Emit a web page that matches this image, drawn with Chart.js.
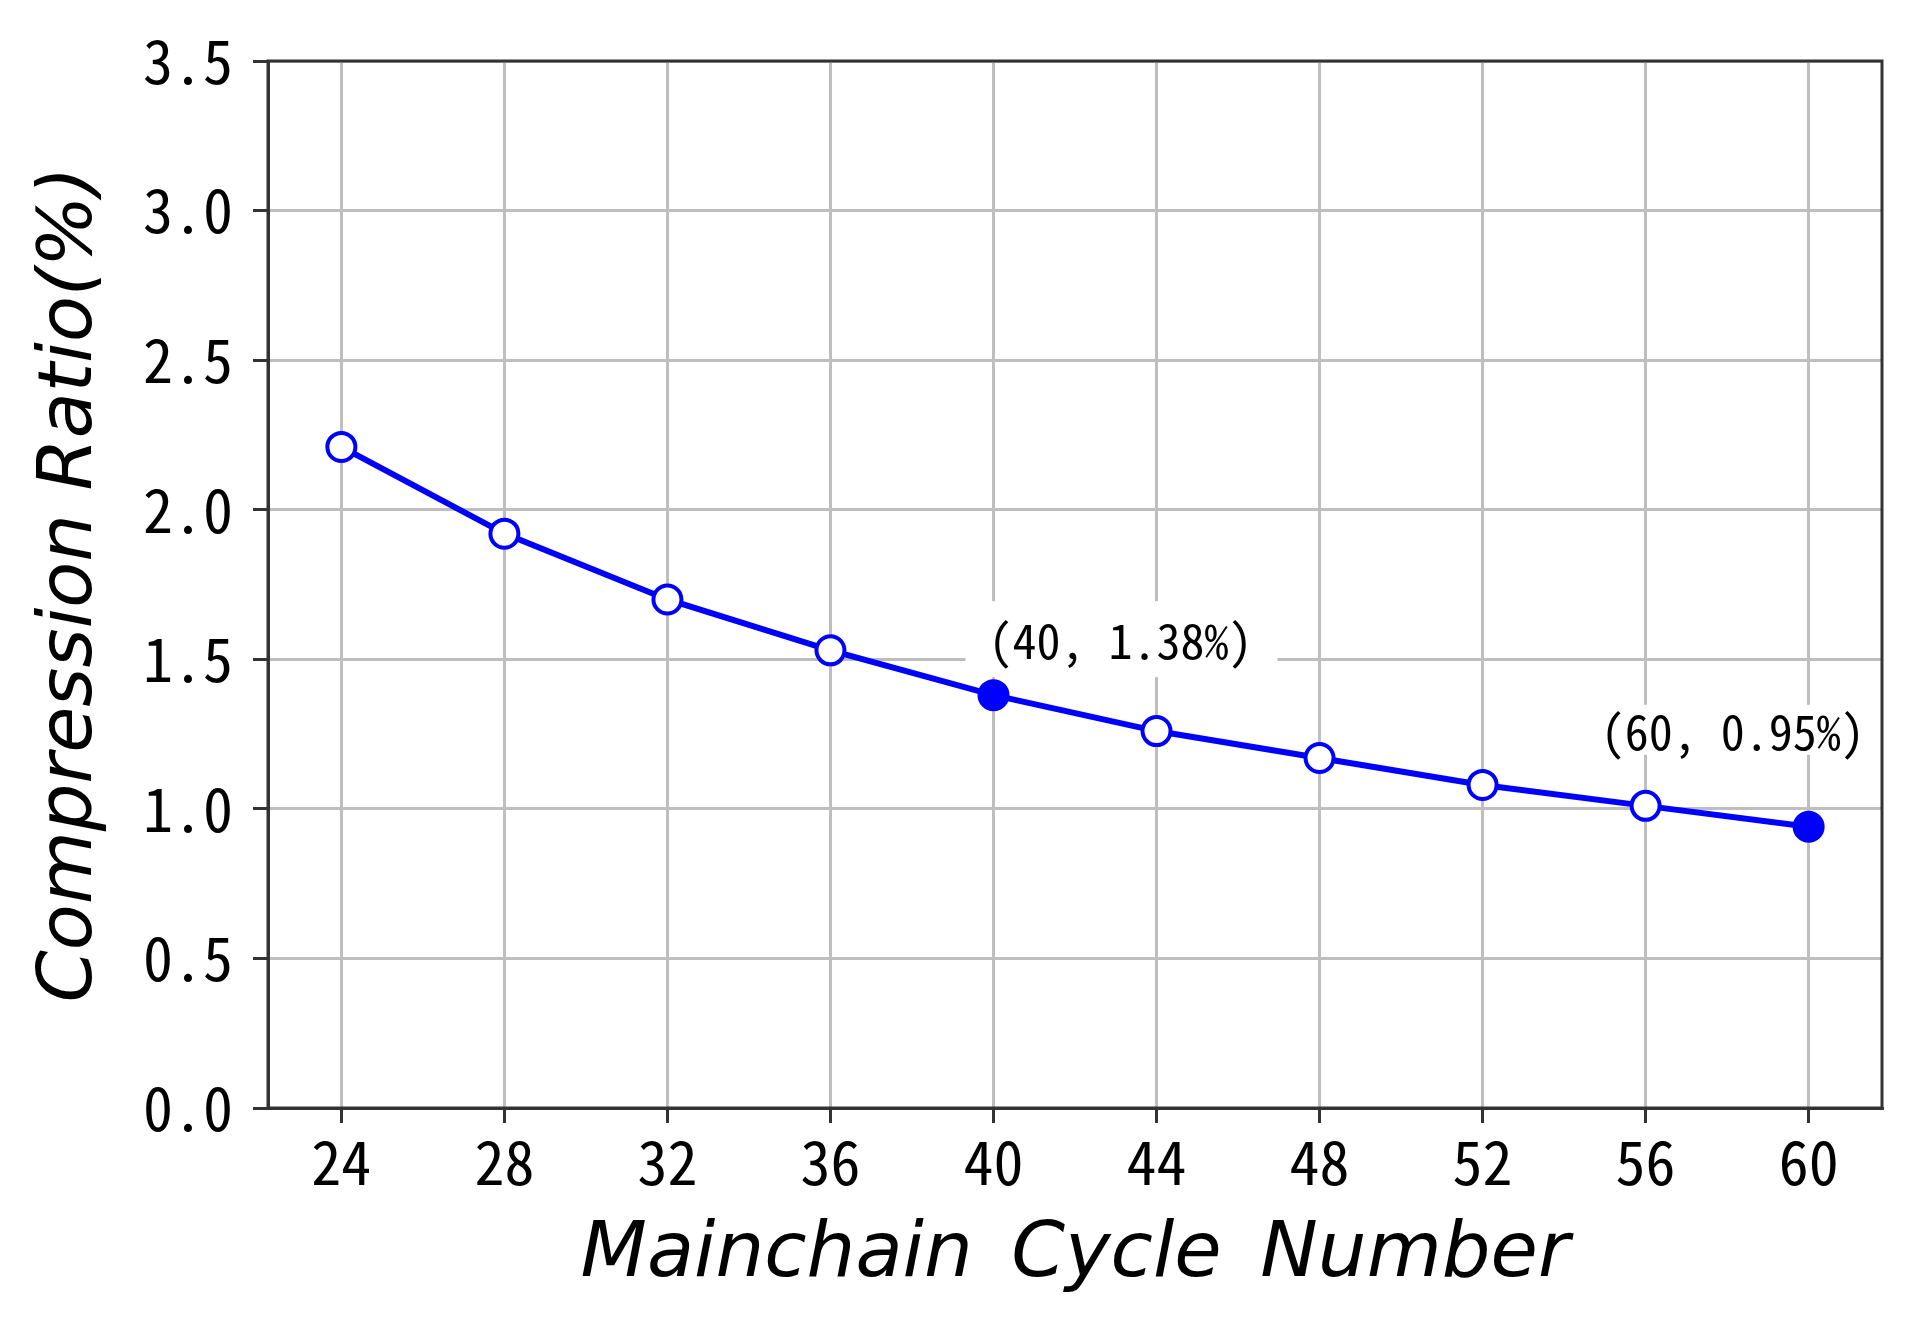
<!DOCTYPE html>
<html>
<head>
<meta charset="utf-8">
<script src="https://cdn.jsdelivr.net/npm/chart.js@4/dist/chart.umd.min.js"></script>
<style>
  html, body { margin: 0; padding: 0; background: #fff; }
  canvas { display: block; }
</style>
</head>
<body>
<canvas id="ratioChart" width="1919" height="1328"></canvas>
<script>
const cycles = [24, 28, 32, 36, 40, 44, 48, 52, 56, 60];
const ratios = [2.21, 1.92, 1.70, 1.53, 1.38, 1.26, 1.17, 1.08, 1.01, 0.94];
const xTicks = [24, 28, 32, 36, 40, 44, 48, 52, 56, 60];
const highlighted = [40, 60];
const noteCycles = [40, 60];
const noteTexts = ["(40, 1.38%)", "(60, 0.95%)"];

const numFont = '"Noto Sans Mono CJK SC", "Liberation Mono", monospace';
const titleFont = '"DejaVu Sans", sans-serif';
const blue = "#0000ff";
const spine = "#333333";

// where each note sits relative to its point, and its white box padding
const noteStyle = {
  40: { dx: -5, dy: -54, pad: [23, 25, 40, 36] },
  60: { dx: -208, dy: -95, pad: [6, 6, 27, 23] }
};

const framePlugin = {
  id: "frame",
  afterDraw(chart) {
    const { ctx, chartArea: a } = chart;
    ctx.save();
    ctx.strokeStyle = spine;
    ctx.lineWidth = 3;
    ctx.strokeRect(a.left, a.top, a.right - a.left, a.bottom - a.top);
    ctx.restore();
  }
};

const notePlugin = {
  id: "notes",
  afterDatasetsDraw(chart) {
    const { ctx, scales } = chart;
    ctx.save();
    ctx.font = "48px " + numFont;
    ctx.textBaseline = "middle";
    ctx.textAlign = "left";
    noteCycles.forEach((c, i) => {
      const idx = cycles.indexOf(c);
      const st = noteStyle[c];
      const px = scales.x.getPixelForValue(c);
      const py = scales.y.getPixelForValue(ratios[idx]);
      const tx = px + st.dx;
      const ty = py + st.dy;
      const w = ctx.measureText(noteTexts[i]).width;
      ctx.fillStyle = "#ffffff";
      ctx.fillRect(tx - st.pad[0], ty - st.pad[2], w + st.pad[0] + st.pad[1], st.pad[2] + st.pad[3]);
      ctx.fillStyle = "#000000";
      ctx.fillText(noteTexts[i], tx, ty);
    });
    ctx.restore();
  }
};

new Chart(document.getElementById("ratioChart"), {
  type: "line",
  data: {
    datasets: [{
      data: cycles.map((c, i) => ({ x: c, y: ratios[i] })),
      borderColor: blue,
      borderWidth: 6,
      tension: 0,
      pointRadius: 14,
      pointHoverRadius: 14,
      pointBorderWidth: 4,
      pointBorderColor: blue,
      pointBackgroundColor: cycles.map(c => highlighted.includes(c) ? blue : "#ffffff")
    }]
  },
  options: {
    responsive: false,
    devicePixelRatio: 1,
    animation: false,
    layout: { padding: { top: 61, right: 37, left: 0, bottom: 0 } },
    plugins: {
      legend: { display: false },
      tooltip: { enabled: false }
    },
    scales: {
      x: {
        type: "linear",
        min: 22.2,
        max: 61.8,
        afterBuildTicks: (scale) => { scale.ticks = xTicks.map(v => ({ value: v })); },
        afterFit: (scale) => { scale.height = 220; },
        grid: { color: "#bebebe", lineWidth: 3, tickColor: spine, tickLength: 15, tickWidth: 3 },
        border: { color: spine, width: 3 },
        ticks: {
          color: "#000",
          font: { family: numFont, size: 60 },
          padding: 3,
          maxRotation: 0,
          autoSkip: false,
          callback: (v) => String(v)
        },
        title: {
          display: true,
          text: "Mainchain\u2002Cycle\u2002Number",
          color: "#000",
          font: { family: titleFont, size: 77, style: "italic" },
          padding: { top: 0, bottom: 26 }
        }
      },
      y: {
        min: 0,
        max: 3.5,
        afterFit: (scale) => { scale.width = 268; },
        grid: { color: "#bebebe", lineWidth: 3, tickColor: spine, tickLength: 15, tickWidth: 3 },
        border: { color: spine, width: 3 },
        ticks: {
          stepSize: 0.5,
          color: "#000",
          font: { family: numFont, size: 60 },
          padding: 20,
          callback: (v) => v.toFixed(1)
        },
        title: {
          display: true,
          text: "Compression Ratio(%)",
          color: "#000",
          font: { family: titleFont, size: 75, style: "italic" },
          padding: { top: 27, bottom: 0 }
        }
      }
    }
  },
  plugins: [notePlugin, framePlugin]
});
</script>
</body>
</html>
